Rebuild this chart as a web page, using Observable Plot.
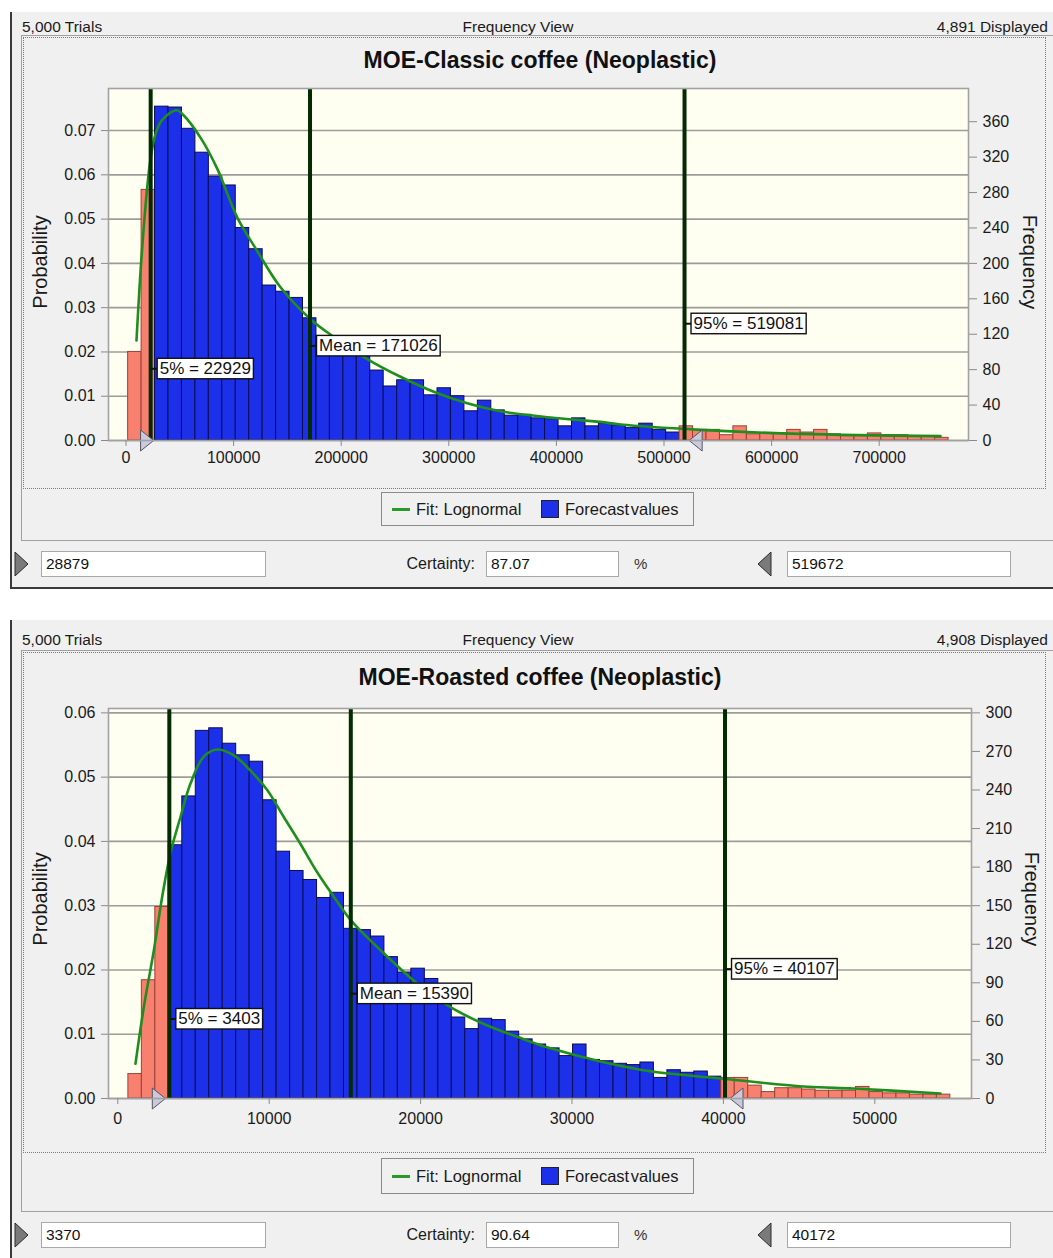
<!DOCTYPE html>
<html>
<head>
<meta charset="utf-8">
<script src="https://cdn.jsdelivr.net/npm/d3@7"></script>
<script src="https://cdn.jsdelivr.net/npm/@observablehq/plot@0.6"></script>
<style>
  body { margin: 0; background: #ffffff; }
  #page { position: relative; width: 1053px; height: 1258px; overflow: hidden;
          font-family: "Liberation Sans", Arial, sans-serif; color: #1a1a1a; }
  #page div { position: absolute; box-sizing: border-box; white-space: nowrap; }
</style>
</head>
<body>
<div id="page"></div>
<script>
// ================= DATA =================
const trials = 5000;

// ---- Panel 1: MOE-Classic coffee (Neoplastic)
const p1Title = "MOE-Classic coffee (Neoplastic)";
const p1Displayed = 4891;
const p1BinStart = 2000;
const p1BinWidth = 12500;
const p1Freq = [100, 283, 377, 376, 352, 325, 298, 288, 240, 216, 175, 168, 161, 138, 118, 110, 102,
  96, 79, 61, 68, 68, 51, 59, 50, 33, 45, 34, 28, 29, 25, 24, 16, 25, 16, 19, 17,
  14, 19, 12, 9, 16, 12, 12, 6, 16, 7, 8, 8, 12, 9, 12, 7, 5, 5, 8, 6, 6, 5, 4, 3];
const p1FitX = [9760, 15060, 22120, 27420, 33640, 46930, 53720, 69240, 84760, 103350, 121930,
  143590, 171470, 193120, 224160, 255110, 286060, 317100, 348050, 394520, 440990, 459570,
  533920, 626860, 756970];
const p1FitFreq = [113, 218, 312, 346, 362, 373, 367, 342, 307, 252, 214, 173, 137, 117, 92, 72,
  55, 42, 33, 26, 21, 18, 12, 7.5, 4.9];
const p1StatNames = ["5%", "Mean", "95%"];
const p1StatValues = [22929, 171026, 519081];
const p1Certainty = [28879, 519672];
const p1CertaintyPct = "87.07";
const p1XTicks = [0, 100000, 200000, 300000, 400000, 500000, 600000, 700000];
const p1ProbTicks = [0, 0.01, 0.02, 0.03, 0.04, 0.05, 0.06, 0.07];
const p1FreqTicks = [0, 40, 80, 120, 160, 200, 240, 280, 320, 360];

// ---- Panel 2: MOE-Roasted coffee (Neoplastic)
const p2Title = "MOE-Roasted coffee (Neoplastic)";
const p2Displayed = 4908;
const p2BinStart = 700;
const p2BinWidth = 890;
const p2Freq = [19, 92, 149, 197, 235, 286, 288, 276, 267, 262, 232, 192, 177, 170, 156, 160,
  132, 131, 126, 110, 98, 101, 93, 85, 63, 54, 62, 61, 52, 46, 42, 39, 33, 42, 30, 29, 27, 26, 28, 16,
  22, 20, 21, 17, 16, 16, 10, 5, 8, 8, 7, 6, 6, 6, 9, 5, 4, 4, 3, 3, 3];
const p2FitX = [1169, 1717, 2378, 2933, 3481, 4141, 4802, 5680, 6565, 7662, 8765, 9868, 10964,
  12067, 13170, 14267, 15370, 17569, 19775, 21975, 24174, 26380, 28580, 34524, 39808, 45535,
  48573, 54340];
const p2FitFreq = [27, 71, 115, 157, 191, 219, 245, 266, 271.5, 267, 255, 240, 219, 198, 176, 157,
  139, 113, 89.5, 71, 58, 48, 39, 22.3, 15.6, 9.1, 7.8, 3.9];
const p2StatNames = ["5%", "Mean", "95%"];
const p2StatValues = [3403, 15390, 40107];
const p2Certainty = [3370, 40172];
const p2CertaintyPct = "90.64";
const p2XTicks = [0, 10000, 20000, 30000, 40000, 50000];
const p2ProbTicks = [0, 0.01, 0.02, 0.03, 0.04, 0.05, 0.06];
const p2FreqTicks = [0, 30, 60, 90, 120, 150, 180, 210, 240, 270, 300];

// ================= STYLE / LAYOUT =================
const FONT = '"Liberation Sans", Arial, sans-serif';
const BLUE = "#1b30e8", BLUE_EDGE = "#0c0c55";
const SALMON = "#f8806f", SALMON_EDGE = "#9a4238";
const FIT = "#1e8e1e", RULE = "#022b02";
const PANEL_BG = "#f0f0f0";
const labelPos = [0.205, 0.27, 0.333];

const page = document.getElementById("page");
function div(css, text) {
  const e = document.createElement("div");
  e.style.cssText = css;
  if (text != null) e.textContent = text;
  page.appendChild(e);
  return e;
}
function svgTri(left, top, dir) {
  const ns = "http://www.w3.org/2000/svg";
  const s = document.createElementNS(ns, "svg");
  s.setAttribute("width", 18); s.setAttribute("height", 26);
  s.style.cssText = `position:absolute;left:${left}px;top:${top}px;`;
  const p = document.createElementNS(ns, "polygon");
  p.setAttribute("points", dir > 0 ? "2,1 15,13 2,25" : "15,1 2,13 15,25");
  p.setAttribute("fill", "#7a7a7a");
  p.setAttribute("stroke", "#2a2a2a");
  p.setAttribute("stroke-width", "1");
  s.appendChild(p);
  page.appendChild(s);
}

const triRight = {draw(ctx) { ctx.moveTo(0, 0); ctx.lineTo(-13, -10.5); ctx.lineTo(-13, 10.5); ctx.closePath(); }};
const triLeft = {draw(ctx) { ctx.moveTo(0, 0); ctx.lineTo(13, -10.5); ctx.lineTo(13, 10.5); ctx.closePath(); }};

function drawChart(cfg) {
  const [lo, hi] = cfg.certainty;
  const bins = cfg.freq.map((f, i) => {
    const x1 = cfg.binStart + i * cfg.binWidth, x2 = x1 + cfg.binWidth;
    const mid = (x1 + x2) / 2;
    return {x1, x2, f, inside: mid >= lo && mid <= hi};
  });
  const fit = cfg.fitX.map((x, i) => ({x, f: cfg.fitFreq[i]}));
  const stats = cfg.statNames.map((n, i) => ({v: cfg.statValues[i], label: `${n} = ${cfg.statValues[i]}`, pos: labelPos[i]}));
  const yMax = cfg.yMax;

  const plot = Plot.plot({
    width: 1053, height: cfg.height,
    marginLeft: 108, marginRight: cfg.marginRight, marginTop: cfg.marginTop, marginBottom: cfg.marginBottom,
    x: {domain: cfg.xDomain},
    y: {domain: [0, yMax]},
    style: {fontFamily: FONT, fontSize: "16px", background: "transparent", color: "#1a1a1a", overflow: "visible"},
    marks: [
      Plot.frame({fill: "#fffff1"}),
      Plot.gridY(cfg.probTicks.map(p => p * trials), {stroke: "#9c9c9c", strokeOpacity: 1, strokeWidth: 1.6}),
      Plot.rectY(bins, {x1: "x1", x2: "x2", y: "f",
        fill: d => d.inside ? BLUE : SALMON,
        stroke: d => d.inside ? BLUE_EDGE : SALMON_EDGE, strokeWidth: 1}),
      Plot.line(fit, {x: "x", y: "f", stroke: FIT, strokeWidth: 2.6, curve: "catmull-rom"}),
      Plot.ruleX(stats, {x: "v", stroke: RULE, strokeWidth: 4}),
      Plot.text(stats, {x: "v", y: d => d.pos * yMax, text: "label", textAnchor: "start", dx: 9,
        fontSize: 17, fill: "#111", fontFamily: FONT}),
      Plot.dot([lo], {x: d => d, y: () => 0, symbol: triRight, dx: -3.5, fill: "#cacadc", stroke: "#555566", strokeWidth: 1}),
      Plot.dot([hi], {x: d => d, y: () => 0, symbol: triLeft, dx: 4, fill: "#cacadc", stroke: "#555566", strokeWidth: 1}),
      Plot.frame({stroke: "#a2a2a2", strokeWidth: 1.6}),
      Plot.axisX({ticks: cfg.xTicks, tickFormat: d => String(d), tickSize: 6, tickPadding: cfg.xPad,
        label: null, stroke: "#8a8a8a", fill: "#1a1a1a", fontSize: 16}),
      Plot.axisY({anchor: "left", ticks: cfg.probTicks.map(p => p * trials),
        tickFormat: d => (d / trials).toFixed(2), tickSize: 7, tickPadding: 6,
        label: null, stroke: "#8a8a8a", fill: "#1a1a1a", fontSize: 16}),
      Plot.axisY({anchor: "right", ticks: cfg.freqTicks, tickFormat: d => String(d), tickSize: 8, tickPadding: 6,
        label: null, stroke: "#8a8a8a", fill: "#1a1a1a", fontSize: 16})
    ]
  });
  const holder = document.createElement("div");
  holder.style.cssText = `position:absolute;left:0;top:${cfg.top}px;width:1053px;height:${cfg.height}px;`;
  holder.appendChild(plot);
  page.appendChild(holder);

  // boxes around the statistic labels
  const labels = new Set(stats.map(s => s.label));
  const ns = "http://www.w3.org/2000/svg";
  d3.select(plot).selectAll("text").filter(function() { return labels.has(this.textContent); }).each(function() {
    const b = this.getBBox();
    const t = this.getAttribute("transform");
    const r = document.createElementNS(ns, "rect");
    r.setAttribute("x", b.x - 2.5); r.setAttribute("y", b.y - 0.5);
    r.setAttribute("width", b.width + 5); r.setAttribute("height", b.height + 1.5);
    r.setAttribute("fill", "#ffffff"); r.setAttribute("stroke", "#111"); r.setAttribute("stroke-width", 1.4);
    const l = document.createElementNS(ns, "line");
    const cy = b.y + (b.height + 1) / 2;
    l.setAttribute("x1", b.x - 9); l.setAttribute("x2", b.x - 2.5);
    l.setAttribute("y1", cy); l.setAttribute("y2", cy);
    l.setAttribute("stroke", "#111"); l.setAttribute("stroke-width", 2);
    if (t) { r.setAttribute("transform", t); l.setAttribute("transform", t); }
    this.parentNode.insertBefore(l, this);
    this.parentNode.insertBefore(r, this);
  });
}

function drawPanel(o) {
  // panel background and borders
  div(`left:10px;top:${o.panelTop}px;width:1043px;height:${o.panelBottom - o.panelTop}px;background:${PANEL_BG};
       border-left:2px solid #3a3a3a;${o.bottomBorder ? "border-bottom:2px solid #3a3a3a;" : ""}`);
  // header
  const hdr = `top:${o.headerY - 10}px;height:20px;line-height:20px;font-size:15.5px;color:#1a1a1a;`;
  div(`left:22px;${hdr}`, `${d3.format(",")(trials)} Trials`);
  div(`left:368px;width:300px;text-align:center;${hdr}`, "Frequency View");
  div(`right:5px;text-align:right;${hdr}`, `${d3.format(",")(o.displayed)} Displayed`);
  // solid and dotted frames
  div(`left:21px;top:${o.frameTop}px;width:1040px;height:${o.solidBottom - o.frameTop}px;border:1px solid #a0a0a0;`);
  div(`left:23px;top:${o.frameTop + 2}px;width:1023px;height:${o.dottedBottom - o.frameTop - 2}px;border:1px dotted #7a7a7a;`);
  // title
  div(`left:240px;width:600px;top:${o.titleY - 14}px;height:28px;line-height:28px;text-align:center;font-weight:bold;font-size:23px;color:#111;`, o.title);
  // axis titles
  div(`left:-20px;top:${o.axisTitleY - 12}px;width:120px;height:24px;line-height:24px;text-align:center;font-size:20px;transform:rotate(-90deg);`, "Probability");
  div(`left:${o.freqTitleX - 60}px;top:${o.axisTitleY - 12}px;width:120px;height:24px;line-height:24px;text-align:center;font-size:20px;transform:rotate(90deg);`, "Frequency");
  // legend
  const lt = o.legendTop, lh = o.legendHeight;
  div(`left:381px;top:${lt}px;width:313px;height:${lh}px;border:1.5px solid #8a8a8a;background:${PANEL_BG};`);
  div(`left:392px;top:${lt + lh / 2 - 1.5}px;width:18px;height:3px;background:#2a9a2a;`);
  div(`left:416px;top:${lt}px;height:${lh}px;line-height:${lh}px;font-size:16.5px;color:#1a1a1a;`, "Fit: Lognormal");
  div(`left:541px;top:${lt + lh / 2 - 9}px;width:18px;height:18px;background:${BLUE};border:1px solid #222;`);
  div(`left:565px;top:${lt}px;height:${lh}px;line-height:${lh}px;font-size:16.5px;color:#1a1a1a;word-spacing:-3px;`, "Forecast values");
  // certainty inputs
  const it = o.inputTop;
  svgTri(13, it, 1);
  div(`left:41px;top:${it}px;width:225px;height:26px;line-height:24px;background:#fff;border:1px solid #a8a8a8;padding-left:4px;font-size:15.5px;color:#111;`, String(o.certainty[0]));
  div(`left:380px;width:95px;text-align:right;top:${it}px;height:26px;line-height:26px;font-size:16px;color:#1a1a1a;`, "Certainty:");
  div(`left:486px;top:${it}px;width:133px;height:26px;line-height:24px;background:#fff;border:1px solid #a8a8a8;padding-left:4px;font-size:15.5px;color:#111;`, o.pct);
  div(`left:634px;top:${it}px;height:26px;line-height:26px;font-size:15px;color:#333;`, "%");
  svgTri(756, it, -1);
  div(`left:787px;top:${it}px;width:224px;height:26px;line-height:24px;background:#fff;border:1px solid #a8a8a8;padding-left:4px;font-size:15.5px;color:#111;`, String(o.certainty[1]));
}

// ---------- Panel 1 ----------
drawPanel({panelTop: 12, panelBottom: 589, bottomBorder: true, headerY: 27, frameTop: 35,
  dottedBottom: 489, solidBottom: 541, titleY: 60, title: p1Title, displayed: p1Displayed,
  axisTitleY: 262, freqTitleX: 1030, legendTop: 492, legendHeight: 34, inputTop: 551,
  certainty: p1Certainty, pct: p1CertaintyPct});
drawChart({top: 80, height: 400, marginTop: 8, marginBottom: 40, marginRight: 85, xPad: 5,
  xDomain: [-16264, 782990], yMax: 397.5,
  freq: p1Freq, binStart: p1BinStart, binWidth: p1BinWidth, fitX: p1FitX, fitFreq: p1FitFreq,
  statNames: p1StatNames, statValues: p1StatValues, certainty: p1Certainty,
  xTicks: p1XTicks, probTicks: p1ProbTicks, freqTicks: p1FreqTicks});

// ---------- Panel 2 ----------
drawPanel({panelTop: 620, panelBottom: 1262, bottomBorder: false, headerY: 640, frameTop: 650,
  dottedBottom: 1153, solidBottom: 1212, titleY: 677, title: p2Title, displayed: p2Displayed,
  axisTitleY: 899, freqTitleX: 1032, legendTop: 1158, legendHeight: 36, inputTop: 1222,
  certainty: p2Certainty, pct: p2CertaintyPct});
drawChart({top: 700, height: 440, marginTop: 8, marginBottom: 42, marginRight: 82, xPad: 8,
  xDomain: [-614, 56387], yMax: 303.4,
  freq: p2Freq, binStart: p2BinStart, binWidth: p2BinWidth, fitX: p2FitX, fitFreq: p2FitFreq,
  statNames: p2StatNames, statValues: p2StatValues, certainty: p2Certainty,
  xTicks: p2XTicks, probTicks: p2ProbTicks, freqTicks: p2FreqTicks});
</script>
</body>
</html>
